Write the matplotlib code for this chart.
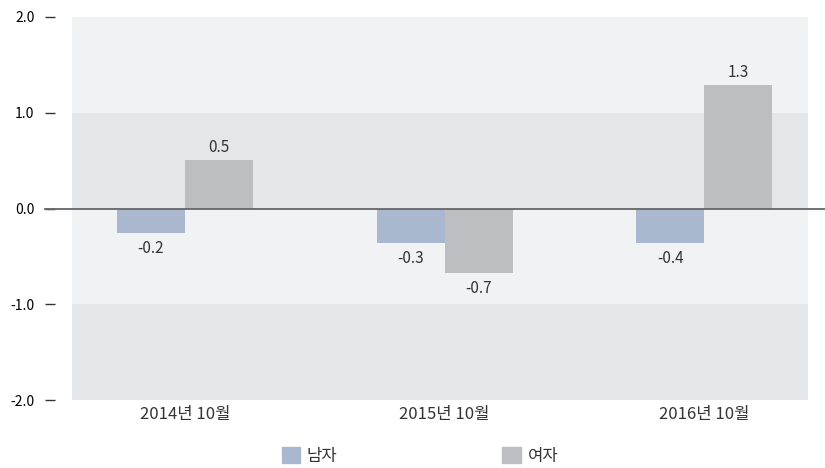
import matplotlib.pyplot as plt
from matplotlib.patches import Rectangle
import numpy as np

plt.rcParams['font.family'] = ['Noto Sans CJK KR', 'DejaVu Sans']

# data
periods = ['2014년 10월', '2015년 10월', '2016년 10월']
men = [-0.26, -0.36, -0.36]
women = [0.51, -0.67, 1.29]
men_labels = ['-0.2', '-0.3', '-0.4']
women_labels = ['0.5', '-0.7', '1.3']
yticks = [2.0, 1.0, 0.0, -1.0, -2.0]

c_men = '#a9b8cf'
c_women = '#bdbec2'
txt = '#333333'

fig = plt.figure(figsize=(8.25, 4.68), dpi=100)
ax = fig.add_axes([72 / 825, 68 / 468, 736 / 825, 383 / 468])

# alternating background bands
for lo, hi, c in [(1, 2, '#f1f2f4'), (0, 1, '#e5e6e8'), (-1, 0, '#f1f2f4'), (-2, -1, '#e5e6e8')]:
    ax.axhspan(lo, hi, color=c, zorder=0, lw=0)

x = np.arange(len(periods))
w = 0.262
b1 = ax.bar(x - w / 2, men, w, color=c_men, zorder=2)
b2 = ax.bar(x + w / 2, women, w, color=c_women, zorder=2)

for bars, labels in [(b1, men_labels), (b2, women_labels)]:
    for bar, lab in zip(bars, labels):
        h = bar.get_height()
        cx = bar.get_x() + bar.get_width() / 2
        if h >= 0:
            ax.annotate(lab, (cx, h), xytext=(0, 3), textcoords='offset points',
                        ha='center', va='bottom', fontsize=11, color=txt)
        else:
            ax.annotate(lab, (cx, h), xytext=(0, -5), textcoords='offset points',
                        ha='center', va='top', fontsize=11, color=txt)

ax.axhline(0, xmin=-0.037, xmax=1.03, color='#666666', lw=1.3, zorder=3, clip_on=False)

ax.set_xlim(-0.435, 2.40)
ax.set_ylim(-2, 2)
ax.set_yticks(yticks)
ax.set_yticklabels([f'{v:.1f}' for v in yticks], fontsize=11, color=txt)
ax.set_xticks(x)
ax.set_xticklabels(periods, fontsize=12, color=txt)
ax.tick_params(axis='x', length=0, pad=4)
ax.tick_params(axis='y', length=7, width=1, color=txt, pad=8)
ax.spines['left'].set_position(('outward', 12))
for s in ax.spines.values():
    s.set_visible(False)

handles = [Rectangle((0, 0), 1, 1, color=c_men), Rectangle((0, 0), 1, 1, color=c_women)]
fig.legend(handles, ['남자', '여자'], loc='center', bbox_to_anchor=(0.509, 0.026),
           ncol=2, frameon=False, fontsize=12, handlelength=1.1, handleheight=1.1,
           handletextpad=0.4, columnspacing=9.9, labelcolor=txt)

fig.savefig('out.png', dpi=100)
